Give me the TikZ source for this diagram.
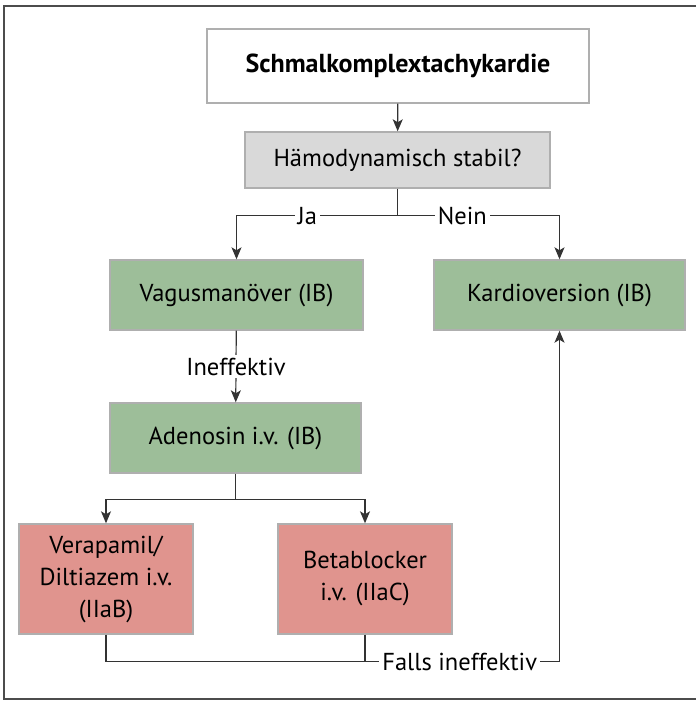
\documentclass[tikz,border=0pt]{standalone}
\usepackage{fontspec}
\setmainfont{PT Sans}
\usepackage{xcolor}
\usepackage{tikz}
\usetikzlibrary{arrows.meta, positioning}

\definecolor{boxgreen}{RGB}{157,190,153}
\definecolor{boxred}{RGB}{224,148,142}
\definecolor{boxgray}{RGB}{217,217,217}
\definecolor{rimgray}{RGB}{175,175,175}

\begin{document}
\begin{tikzpicture}[
  x=1pt, y=-1pt,
  font=\fontsize{24.5}{32}\selectfont,
  box/.style={rectangle, draw=rimgray, line width=1.4pt, align=center, inner sep=0pt},
  green/.style={box, fill=boxgreen},
  red/.style={box, fill=boxred, minimum width=174pt, minimum height=110pt},
  line/.style={draw=black!80, line width=1.2pt},
  arrow/.style={line, -{Stealth[length=12pt, width=10pt, inset=3pt]}},
  lbl/.style={fill=white, inner sep=3pt},
]
\useasboundingbox (0,0) rectangle (696,701);

% Frame
\draw[black!70, line width=1.6pt] (696,6) -- (4,6) -- (4,699) -- (696,699);

% Boxes
\node[box, fill=white, minimum width=382pt, minimum height=74pt] (title) at (398,66) {\fontsize{26}{32}\selectfont\textbf{Schmalkomplextachykardie}};
\node[box, fill=boxgray, minimum width=305pt, minimum height=56pt] (stabil) at (397.5,160) {Hämodynamisch stabil?};
\node[green, minimum width=253pt, minimum height=70pt] (vagus) at (236.5,295) {Vagusmanöver (IB)};
\node[green, minimum width=251pt, minimum height=70pt] (kardio) at (559.5,295) {Kardioversion (IB)};
\node[green, minimum width=251pt, minimum height=70pt] (adeno) at (235.5,438) {Adenosin i.v. (IB)};
\node[red] (verap) at (106,579) {Verapamil/\\Diltiazem i.v.\\(IIaB)};
\node[red] (beta) at (365,579) {Betablocker\\i.v. (IIaC)};

% Connections
\draw[arrow] (title) -- (stabil);
\draw[line] (stabil.south) -- ++(0,27) coordinate (split);
\draw[arrow] (split) -| node[lbl, pos=0.28] {Ja} (vagus.north);
\draw[arrow] (split) -| node[lbl, pos=0.2] {Nein} (kardio.north);
\draw[arrow] (vagus) -- node[lbl] {Ineffektiv} (adeno);
\draw[line] (adeno.south) -- ++(0,26) coordinate (split2);
\draw[arrow] (split2) -| (verap.north);
\draw[arrow] (split2) -| (beta.north);
\draw[arrow] (verap.south) -- ++(0,27) coordinate (merge) -| node[lbl, pos=0.39] {Falls ineffektiv} (kardio.south);
\draw[line] (beta.south) -- (beta.south |- merge);

\end{tikzpicture}
\end{document}
